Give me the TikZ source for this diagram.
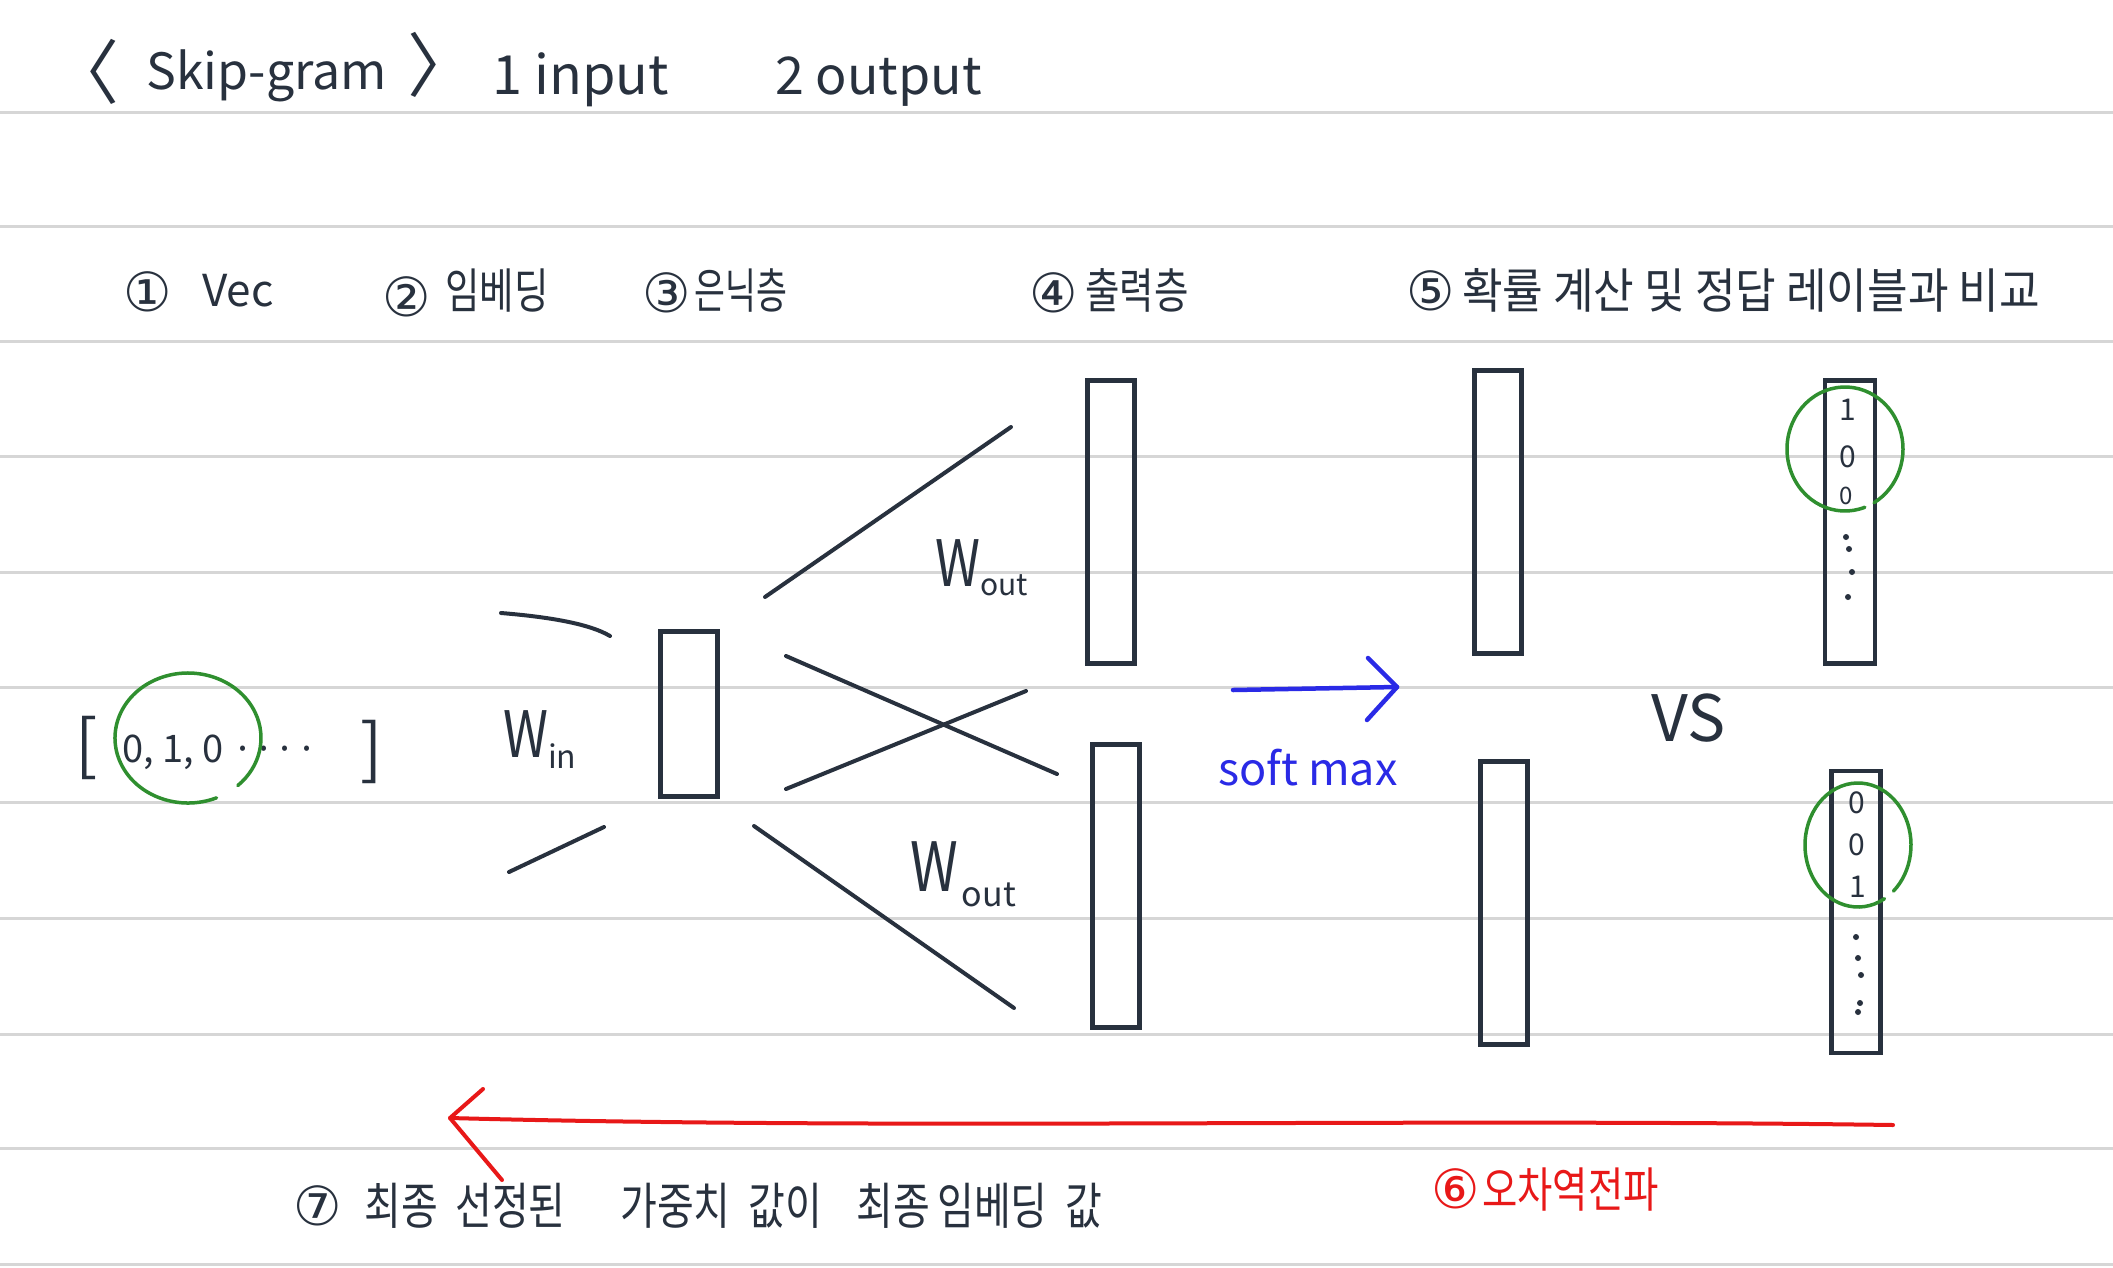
\documentclass[tikz,border=0pt]{standalone}
\usepackage{fontspec}
\usepackage{graphicx}
\setmainfont{Noto Sans CJK KR}
\newfontfamily\symf{DejaVu Sans}
\usetikzlibrary{arrows.meta}
\definecolor{ink}{HTML}{28313E}
\definecolor{rulec}{HTML}{D6D6D6}
\definecolor{grn}{HTML}{2F8F2F}
\definecolor{blu}{HTML}{2A2AE6}
\definecolor{rd}{HTML}{E81818}
\newcommand\hw[3]{\scalebox{#2}[1]{\fontsize{#1}{#1}\selectfont #3}}
\begin{document}
\begin{tikzpicture}[x=1pt,y=-1pt,
  rulel/.style={draw=rulec, line width=3pt},
  pen/.style={draw=ink, line width=4pt, line cap=round},
  layer/.style={draw=ink, line width=4.5pt, inner sep=0pt, minimum width=47pt, minimum height=283pt},
  txt/.style={text=ink, inner sep=0pt, anchor=base west},
  circ/.style={text=ink, inner sep=0pt, font=\symf\fontsize{54}{54}\selectfont},
  digit/.style={text=ink, inner sep=0pt, font=\fontsize{30}{30}\selectfont},
  gring/.style={draw=grn, line width=3.5pt, line cap=round},
  bpen/.style={draw=blu, line width=4.5pt, line cap=round, line join=round},
  rpen/.style={draw=rd, line width=4pt, line cap=round, line join=round}]
\useasboundingbox[fill=white] (0,0) rectangle (2113,1267);
% ruled lines
\foreach \yy in {112,226,341,456,572,687,802,918,1034,1148,1264}
  \draw[rulel] (0,\yy) -- (2113,\yy);

% title
\node[txt, anchor=center] (lb) at (84,72) {\fontsize{70}{70}\selectfont 〈};
\node[txt] (ttl) at (146,89) {\fontsize{50}{50}\selectfont Skip-gram};
\node[txt, anchor=center] (rb) at (442,65) {\fontsize{70}{70}\selectfont 〉};
\node[txt] (in1) at (492,94) {\fontsize{54}{54}\selectfont 1 input};
\node[txt] (out2) at (775,94) {\fontsize{52}{52}\selectfont 2 output};

% step labels
\node[circ] (c1) at (148,292) {①};
\node[txt] (s1) at (202,306) {\fontsize{44}{44}\selectfont Vec};
\node[circ] (c2) at (407,297) {②};
\node[txt] (s2) at (445,308) {\hw{48}{0.78}{임베딩}};
\node[circ] (c3) at (667,293) {③};
\node[txt] (s3) at (694,308) {\hw{48}{0.7}{은닉층}};
\node[circ] (c4) at (1054,293) {④};
\node[txt] (s4) at (1085,308) {\hw{48}{0.78}{출력층}};
\node[circ] (c5) at (1431,291) {⑤};
\node[txt] (s5) at (1462,308) {\hw{48}{0.92}{확률 계산 및 정답 레이블과 비교}};

% input vector
\node[txt, anchor=center] (vl) at (87,748) {\fontsize{66}{66}\selectfont [};
\node[txt] (vv) at (122,762) {\fontsize{38}{38}\selectfont 0, 1, 0 ····};
\node[txt, anchor=center] (vr) at (372,752) {\fontsize{66}{66}\selectfont ]};
\coordinate (ve) at (188,738);
\draw[gring] ([shift={(67:73 and 65)}]ve) arc[start angle=67, end angle=407, x radius=73, y radius=65];

% W_in strokes
\coordinate (wa1) at (501,613); \coordinate (wa2) at (610,636);
\coordinate (wb1) at (509,872); \coordinate (wb2) at (604,827);
\draw[pen] (wa1) .. controls (550,617) and (590,624) .. (wa2);
\draw[pen] (wb1) -- (wb2);
\node[txt] (win) at (503,757) {\hw{64}{0.8}{W}\raisebox{-11pt}{\fontsize{32}{32}\selectfont in}};

% hidden layer
\node[layer, minimum width=57pt, minimum height=165pt] (hid) at (689,714) {};

% output layers
\node[layer] (o1) at (1111,522) {};
\node[layer, minimum height=283pt] (o2) at (1116,886) {};

% weight lines
\coordinate (l1a) at (765,597); \coordinate (l1b) at (1011,427);
\coordinate (l2a) at (786,656); \coordinate (l2b) at (1057,774);
\coordinate (l3a) at (786,789); \coordinate (l3b) at (1026,691);
\coordinate (l4a) at (754,826); \coordinate (l4b) at (1014,1008);
\draw[pen] (l1a) -- (l1b);
\draw[pen] (l2a) -- (l2b);
\draw[pen] (l3a) -- (l3b);
\draw[pen] (l4a) -- (l4b);
\node[txt] (wo1) at (935,586) {\hw{64}{0.8}{W}\raisebox{-9pt}{\fontsize{30}{30}\selectfont out}};
\node[txt] (wo2) at (910,891) {\hw{68}{0.8}{W}\hspace{4pt}\raisebox{-15pt}{\fontsize{34}{34}\selectfont out}};

% softmax arrow
\coordinate (sa) at (1233,690); \coordinate (st) at (1397,687);
\coordinate (su) at (1368,658); \coordinate (sl) at (1367,720);
\draw[bpen] (sa) -- (st);
\draw[bpen] (su) -- (st) -- (sl);
\node[txt, text=blu] (sm) at (1218,785) {\fontsize{45}{45}\selectfont soft max};

% probability layers
\node[layer] (p1) at (1498,512) {};
\node[layer] (p2) at (1504,903) {};

\node[txt] (vs) at (1651,741) {\fontsize{64}{64}\selectfont VS};

% label layers
\node[layer, minimum width=50pt] (t1) at (1850,522) {};
\node[layer, minimum width=49pt, minimum height=282pt] (t2) at (1856,912) {};
\node[digit] (d11) at (1848,410) {1};
\node[digit] (d12) at (1848,457) {0};
\node[digit, font=\fontsize{24}{24}\selectfont] (d13) at (1846,496) {0};
\foreach \px/\py [count=\i] in {1846/537,1849/549,1852/572,1848/597}
  \fill[ink] (\px,\py) circle[radius=3pt] coordinate (e1\i);
\node[digit] (d21) at (1857,803) {0};
\node[digit] (d22) at (1857,845) {0};
\node[digit] (d23) at (1858,887) {1};
\foreach \px/\py [count=\i] in {1856/937,1858/958,1861/975,1860/1003,1858/1012}
  \fill[ink] (\px,\py) circle[radius=3pt] coordinate (e2\i);
\coordinate (g1) at (1845,449);
\draw[gring] ([shift={(70:58 and 62)}]g1) arc[start angle=70, end angle=420, x radius=58, y radius=62];
\coordinate (g2) at (1858,845);
\draw[gring] ([shift={(60:53 and 62)}]g2) arc[start angle=60, end angle=408, x radius=53, y radius=62];

% backprop arrow
\coordinate (ra) at (1893,1125); \coordinate (rt) at (450,1118);
\coordinate (ru) at (483,1089); \coordinate (rl) at (502,1180);
\draw[rpen] (ra) .. controls (1400,1118) and (900,1130) .. (rt);
\draw[rpen] (ru) -- (rt) -- (rl);
\node[circ, text=rd] (c6) at (1456,1189) {⑥};
\node[txt, text=rd] (s6) at (1482,1207) {\hw{48}{0.8}{오차역전파}};

% final note
\node[circ] (c7) at (318,1206) {⑦};
\foreach \xx/\ww [count=\i] in {364/최종,455/선정된,620/가중치,748/값이,856/최종,937/임베딩,1065/값}
  \node[txt] (b\i) at (\xx,1224) {\hw{50}{0.8}{\ww}};
\end{tikzpicture}
\end{document}
